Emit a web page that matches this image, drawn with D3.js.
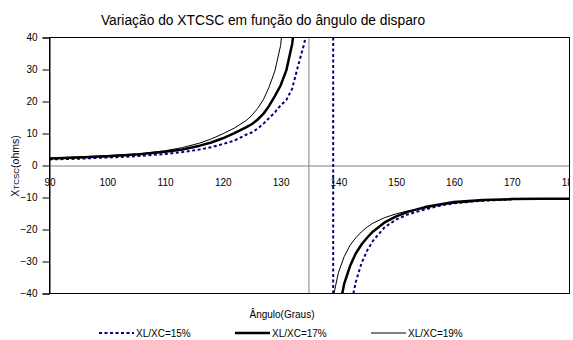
<!DOCTYPE html>
<html>
<head>
<meta charset="utf-8">
<script src="https://cdn.jsdelivr.net/npm/d3@7"></script>
<style>
  html, body { margin: 0; padding: 0; background: #fff; }
  svg { display: block; font-family: Arial, "Liberation Sans", sans-serif; }
</style>
</head>
<body>
<svg id="chart" width="573" height="340"></svg>
<script>
// Firing angle (degrees) shared by all series
const angles = [90, 95, 100, 105, 110, 113, 116, 118, 120, 122, 124, 125, 126, 127, 128, 129, 130, 131, 132, 133, 134, 135,
                139, 140, 141, 142, 143, 144, 145, 146, 148, 150, 152, 155, 158, 160, 165, 170, 175, 180];

// XTCSC (ohms) for each XL/XC ratio; null = no point (line break at resonance)
const xtcsc15 = [1.9, 2.1, 2.5, 2.9, 3.6, 4.2, 5.0, 5.7, 6.7, 7.8, 9.6, 10.3, 11.5, 13.0, 14.8, 16.6, 18.8, 20.5, 24.0, 31, 37.5, 46,
                 null, null, null, -45, -36.5, -30.5, -26.5, -23.5, -19.3, -16.9, -15.3, -13.7, -12.4, -11.8, -11.0, -10.6, null, null];
const xtcsc17 = [2.2, 2.5, 2.9, 3.4, 4.3, 5.0, 6.2, 7.2, 8.5, 10.1, 11.9, 12.9, 14.3, 16.1, 18.6, 21.7, 25, 29.8, 38, 52, null, null,
                 null, -46, -37, -31.5, -27.5, -24.7, -22.5, -20.6, -17.8, -15.9, -14.5, -13.0, -12.0, -11.4, -10.8, -10.5, -10.4, -10.4];
const xtcsc19 = [2.3, 2.7, 3.1, 3.6, 4.6, 5.6, 7.0, 8.3, 9.9, 11.7, 14.0, 15.6, 17.8, 20.5, 24.5, 29.5, 37.5, 55, null, null, null, null,
                 -42, -33.5, -28.5, -25, -22.6, -20.7, -19.2, -18, -16.3, -15.1, -14.2, -13.3, -12.2, -11.8, -11, -10.6, -10.4, -10.4];

const seriesLabels = ["XL/XC=15%", "XL/XC=17%", "XL/XC=19%"];
// Vertical jumps at resonance
const resonanceAngles = [134.9, 139.1];

const xTicks = [90, 100, 110, 120, 130, 140, 150, 160, 170, 180];
const yTicks = [-40, -30, -20, -10, 0, 10, 20, 30, 40];

const title = "Variação do XTCSC em função do ângulo de disparo";
const xTitle = "Ângulo(Graus)";

const svg = d3.select("#chart");
const plotLeft = 49.5, plotRight = 569.5, plotTop = 37.5, plotBottom = 293.5;

const x = d3.scaleLinear().domain([90, 180]).range([plotLeft, plotRight]);
const y = d3.scaleLinear().domain([-40, 40]).range([plotBottom, plotTop]);

const styles = [
  { stroke: "#000080", width: 2, dash: "3,2.5" },
  { stroke: "#000000", width: 2.5, dash: null },
  { stroke: "#000000", width: 1, dash: null }
];
const seriesValues = [xtcsc15, xtcsc17, xtcsc19];

// Title
svg.append("text")
  .attr("x", 263).attr("y", 25)
  .attr("text-anchor", "middle")
  .attr("font-size", "13.8px")
  .attr("fill", "#000")
  .text(title);

// Clip regions
const defs = svg.append("defs");
defs.append("clipPath").attr("id", "plotClip")
  .append("rect").attr("x", plotLeft).attr("y", plotTop)
  .attr("width", plotRight - plotLeft).attr("height", plotBottom - plotTop);
defs.append("clipPath").attr("id", "labelClip")
  .append("rect").attr("x", 0).attr("y", -200).attr("width", plotRight).attr("height", 500);

// Zero line (horizontal axis)
const xAxis = d3.axisBottom(x).tickValues(xTicks).tickSize(0).tickPadding(13).tickFormat(d3.format("d"));
const gx = svg.append("g")
  .attr("transform", `translate(0,${y(0)})`)
  .attr("clip-path", "url(#labelClip)")
  .call(xAxis);
gx.select(".domain").attr("stroke", "#808080").attr("stroke-width", 1);
gx.selectAll("text").attr("font-size", "10px").attr("fill", "#000").attr("font-family", "Arial, 'Liberation Sans', sans-serif");

// Resonance vertical lines
svg.append("g").attr("clip-path", "url(#plotClip)")
  .selectAll("line").data(resonanceAngles).join("line")
  .attr("x1", d => x(d)).attr("x2", d => x(d))
  .attr("y1", y(40)).attr("y2", y(-40))
  .attr("stroke", (d, i) => i === 0 ? "#808080" : "#000080")
  .attr("stroke-width", (d, i) => i === 0 ? 1 : 2)
  .attr("stroke-dasharray", (d, i) => i === 0 ? null : "3,2.5");

// Series lines
const line = d3.line()
  .defined(d => d[1] !== null)
  .x(d => x(d[0]))
  .y(d => y(d[1]));

const gLines = svg.append("g").attr("clip-path", "url(#plotClip)");
seriesValues.forEach((vals, i) => {
  const pts = angles.map((a, j) => [a, vals[j]]);
  gLines.append("path")
    .datum(pts)
    .attr("d", line)
    .attr("fill", "none")
    .attr("stroke", styles[i].stroke)
    .attr("stroke-width", styles[i].width)
    .attr("stroke-dasharray", styles[i].dash)
    .attr("stroke-linejoin", "round");
});

// Plot frame
svg.append("rect")
  .attr("x", plotLeft).attr("y", plotTop)
  .attr("width", plotRight - plotLeft).attr("height", plotBottom - plotTop)
  .attr("fill", "none").attr("stroke", "#000").attr("stroke-width", 1);

// Vertical axis
const yAxis = d3.axisLeft(y).tickValues(yTicks).tickSize(7).tickPadding(5).tickFormat(d3.format("d"));
const gy = svg.append("g").attr("transform", `translate(${plotLeft},0)`).call(yAxis);
gy.select(".domain").attr("stroke", "#000");
gy.selectAll(".tick line").attr("stroke", "#000");
gy.selectAll("text").attr("font-size", "10px").attr("fill", "#000").attr("font-family", "Arial, 'Liberation Sans', sans-serif");

// Axis titles
const yTitle = svg.append("text")
  .attr("transform", `translate(18.5,166) rotate(-90)`)
  .attr("text-anchor", "middle")
  .attr("font-size", "10.5px")
  .attr("fill", "#000");
yTitle.append("tspan").text("X");
yTitle.append("tspan").attr("font-size", "8px").text("TCSC");
yTitle.append("tspan").text("(ohms)");

svg.append("text")
  .attr("x", 282).attr("y", 318)
  .attr("text-anchor", "middle")
  .attr("font-size", "10px")
  .attr("fill", "#000")
  .text(xTitle);

// Legend
const legendX = [99, 235, 371];
const legend = svg.append("g");
seriesLabels.forEach((lab, i) => {
  const g = legend.append("g").attr("transform", `translate(${legendX[i]},333)`);
  g.append("line")
    .attr("x1", 0).attr("x2", 35).attr("y1", 0).attr("y2", 0)
    .attr("stroke", styles[i].stroke)
    .attr("stroke-width", styles[i].width)
    .attr("stroke-dasharray", styles[i].dash);
  g.append("text")
    .attr("x", 37).attr("y", 3.6)
    .attr("font-size", "10px")
    .attr("fill", "#000")
    .text(lab);
});
</script>
</body>
</html>
